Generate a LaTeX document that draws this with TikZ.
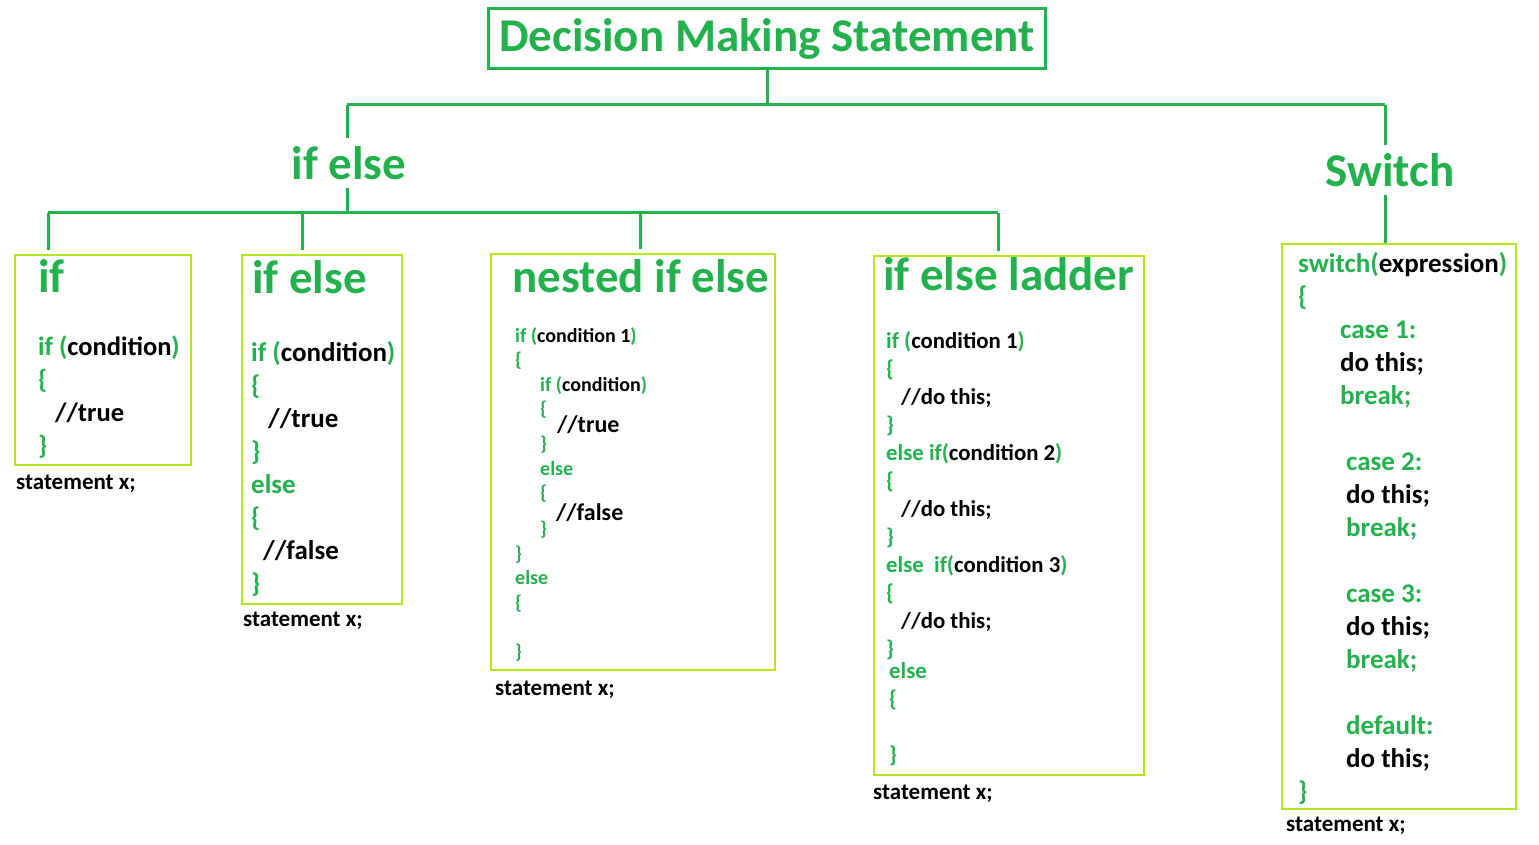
\documentclass[tikz,border=0pt]{standalone}
\usepackage{fontspec}
\setmainfont{Carlito}
\usepackage{tikz}
\definecolor{dmgreen}{RGB}{34,177,76}
\definecolor{dmlime}{RGB}{181,230,29}
\newcommand{\kw}[1]{\textcolor{dmgreen}{#1}}
\newcommand{\dmfont}[2]{\fontsize{#1}{#2}\selectfont\bfseries}
\tikzset{
  tree/.style={draw=dmgreen, line width=3pt},
  headbox/.style={
    draw=dmgreen, line width=3pt, text=dmgreen, font=\dmfont{47}{56},
    minimum width=557, minimum height=60, inner sep=0pt
  },
  lab/.style={text=dmgreen, font=\dmfont{47}{56}, inner sep=0pt, outer sep=8pt},
  codebox/.style={draw=dmlime, line width=1.5pt, anchor=north west, inner sep=0pt},
  boxtitle/.style={text=dmgreen, font=\dmfont{47}{56}, inner sep=0pt, anchor=west},
  code/.style={align=left, inner sep=0pt, anchor=north west},
  stmt/.style={font=\dmfont{23}{28}, inner sep=0pt, anchor=west}
}

\begin{document}
\begin{tikzpicture}[x=1pt, y=-1pt]
  \useasboundingbox (0,0) rectangle (1539,845);

  % top of the tree
  \node[headbox] (title) at (767,38.5) {Decision Making Statement};
  \node[lab] (iflab) at (349,163) {if else};
  \node[lab] (swlab) at (1390,170) {Switch};

  % boxes
  \node[codebox, minimum width=176, minimum height=210] (bif) at (14,254) {};
  \node[codebox, minimum width=160, minimum height=349] (bifelse) at (241,254) {};
  \node[codebox, minimum width=284, minimum height=416] (bnest) at (490,253) {};
  \node[codebox, minimum width=270, minimum height=519] (bladder) at (873,255) {};
  \node[codebox, minimum width=234, minimum height=565] (bsw) at (1281,243) {};

  \node[boxtitle] (tif) at (38,276) {if};
  \node[boxtitle] (tifelse) at (252,277) {if else};
  \node[boxtitle] (tnest) at (512,276) {nested if else};
  \node[boxtitle] (tladder) at (883,274) {if else ladder};

  % code
  \node[code, font=\dmfont{26.5}{33}] (cif) at (38,332) {\strut\kw{if (}condition\kw{)}\\
    \kw{\{}\\
    \hspace*{17pt}//true\\
    \kw{\}}};
  \node[code, font=\dmfont{27}{33}] (cifelse) at (251,338) {\strut\kw{if (}condition\kw{)}\\
    \kw{\{}\\
    \hspace*{17pt}//true\\
    \kw{\}}\\
    \kw{else}\\
    \kw{\{}\\
    \hspace*{12pt}//false\\
    \kw{\}}};
  \node[code, font=\dmfont{20}{24.5}] (cnest) at (515,325) {\strut\kw{if (}condition 1\kw{)}\\
    \kw{\{}\\
    \hspace*{25pt}\kw{if (}condition\kw{)}\\
    \hspace*{25pt}\kw{\{}\hspace{10pt}\smash{\raisebox{-16.5pt}{\dmfont{24}{28}//true}}\\[10.5pt]
    \hspace*{25pt}\kw{\}}\\
    \hspace*{25pt}\kw{else}\\
    \hspace*{25pt}\kw{\{}\hspace{9pt}\smash{\raisebox{-20.5pt}{\dmfont{24}{28}//false}}\\[11.5pt]
    \hspace*{25pt}\kw{\}}\\
    \kw{\}}\\
    \kw{else}\\
    \kw{\{}\\[24.5pt]
    \kw{\}}};
  \node[code, font=\dmfont{22.8}{28}] (cladder) at (886,329) {\strut\kw{if (}condition 1\kw{)}\\
    \kw{\{}\\
    \hspace*{15pt}//do this;\\
    \kw{\}}\\
    \kw{else if(}condition 2\kw{)}\\
    \kw{\{}\\
    \hspace*{15pt}//do this;\\
    \kw{\}}\\
    \kw{else\ \ if(}condition 3\kw{)}\\
    \kw{\{}\\
    \hspace*{15pt}//do this;\\
    \kw{\}}\\[-6pt]
    \hspace*{3pt}\kw{else}\\
    \hspace*{3pt}\kw{\{}\\[28pt]
    \hspace*{3pt}\kw{\}}};
  \node[code, font=\dmfont{27}{33}] (csw) at (1298,249) {\strut\kw{switch(}expression\kw{)}\\
    \kw{\{}\\
    \hspace*{42pt}\kw{case 1:}\\
    \hspace*{42pt}do this;\\
    \hspace*{42pt}\kw{break;}\\[33pt]
    \hspace*{48pt}\kw{case 2:}\\
    \hspace*{48pt}do this;\\
    \hspace*{48pt}\kw{break;}\\[33pt]
    \hspace*{48pt}\kw{case 3:}\\
    \hspace*{48pt}do this;\\
    \hspace*{48pt}\kw{break;}\\[33pt]
    \hspace*{48pt}\kw{default:}\\
    \hspace*{48pt}do this;\\
    \kw{\}}};

  \node[stmt] (sif) at (16,484) {statement x;};
  \node[stmt] (sifelse) at (243,621) {statement x;};
  \node[stmt] (snest) at (495,690) {statement x;};
  \node[stmt] (sladder) at (873,794) {statement x;};
  \node[stmt] (ssw) at (1286,826) {statement x;};

  % connectors
  \coordinate (busL) at (347,105);
  \coordinate (busR) at (1385,105);
  \coordinate (jA) at (48,213);
  \coordinate (jB) at (302,213);
  \coordinate (jC) at (640,213);
  \coordinate (jD) at (998,213);
  \draw[tree] (title.south) -- (title.south |- busL);
  \draw[tree] (busL) -- (busR);
  \draw[tree] (busL) -- (busL |- iflab.north);
  \draw[tree] (busR) -- (busR |- swlab.north);
  \draw[tree] (busL |- iflab.south) -- (busL |- jA);
  \draw[tree] (jA) -- (jD);
  \draw[tree, shorten >=4pt] (jA) -- (jA |- bif.north);
  \draw[tree, shorten >=4pt] (jB) -- (jB |- bifelse.north);
  \draw[tree, shorten >=4pt] (jC) -- (jC |- bnest.north);
  \draw[tree, shorten >=4pt] (jD) -- (jD |- bladder.north);
  \draw[tree] (busR |- swlab.south) -- (busR |- bsw.north);
\end{tikzpicture}
\end{document}
